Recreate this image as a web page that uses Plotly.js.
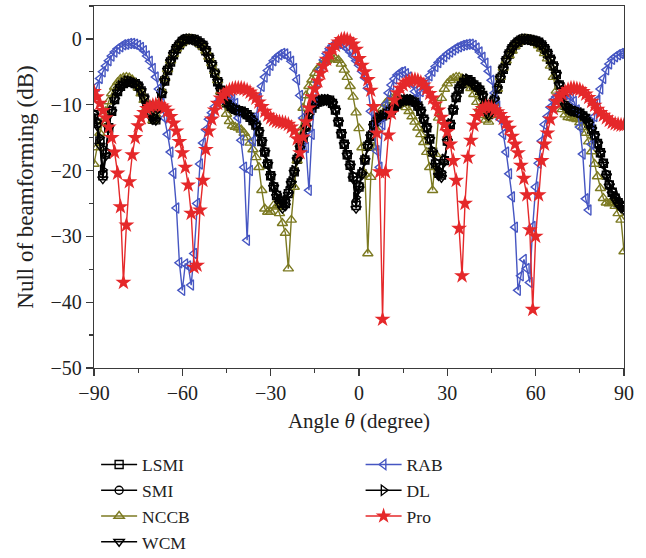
<!DOCTYPE html>
<html><head><meta charset="utf-8">
<script src="https://cdn.plot.ly/plotly-3.0.1.min.js"></script>
<style>html,body{margin:0;padding:0;background:#fff;} #chart{width:646px;height:558px;}</style>
</head><body><div id="chart"></div>
<script>
// Angle grid (degree)
const angleDeg = [
-90,-89,-88,-87,-86,-85,-84,-83,-82,-81,
-80,-79,-78,-77,-76,-75,-74,-73,-72,-71,
-70,-69,-68,-67,-66,-65,-64,-63,-62,-61,
-60,-59,-58,-57,-56,-55,-54,-53,-52,-51,
-50,-49,-48,-47,-46,-45,-44,-43,-42,-41,
-40,-39,-38,-37,-36,-35,-34,-33,-32,-31,
-30,-29,-28,-27,-26,-25,-24,-23,-22,-21,
-20,-19,-18,-17,-16,-15,-14,-13,-12,-11,
-10,-9,-8,-7,-6,-5,-4,-3,-2,-1,
0,1,2,3,4,5,6,7,8,9,
10,11,12,13,14,15,16,17,18,19,
20,21,22,23,24,25,26,27,28,29,
30,31,32,33,34,35,36,37,38,39,
40,41,42,43,44,45,46,47,48,49,
50,51,52,53,54,55,56,57,58,59,
60,61,62,63,64,65,66,67,68,69,
70,71,72,73,74,75,76,77,78,79,
80,81,82,83,84,85,86,87,88,89,
90];

const lsmiDb = [
-11.5,-12.8,-15.5,-20.8,-17.5,-13.5,-11.0,-9.2,-8.0,-7.2,
-6.8,-6.5,-6.5,-6.6,-6.8,-7.2,-7.9,-9.0,-10.1,-11.2,
-12.2,-12.3,-10.5,-8.3,-6.4,-4.8,-3.5,-2.4,-1.5,-0.9,
-0.4,-0.1,0.0,0.0,-0.1,-0.3,-0.6,-1.0,-1.8,-2.8,
-3.9,-5.2,-6.5,-7.8,-8.9,-9.7,-10.2,-10.5,-10.7,-10.9,
-11.0,-11.2,-11.5,-11.9,-12.4,-13.1,-14.1,-15.6,-17.2,-19.0,
-20.8,-22.5,-23.8,-24.7,-25.3,-25.0,-23.5,-21.9,-20.2,-18.3,
-16.5,-15.0,-13.4,-11.6,-10.5,-9.9,-9.6,-9.4,-9.3,-9.3,
-9.3,-9.8,-10.8,-12.6,-14.4,-16.0,-17.6,-19.2,-21.0,-25.3,
-22.5,-20.5,-18.4,-16.3,-14.8,-13.2,-12.3,-11.9,-11.7,-11.5,
-11.2,-10.8,-10.3,-9.9,-9.6,-9.4,-9.3,-9.3,-9.3,-9.6,
-10.2,-11.0,-12.2,-13.5,-15.2,-17.2,-19.0,-20.4,-20.7,-18.5,
-15.5,-13.0,-10.8,-8.9,-7.6,-6.8,-6.3,-6.2,-6.5,-7.0,
-7.3,-7.8,-8.6,-10.0,-11.5,-10.6,-9.3,-7.6,-6.0,-4.6,
-3.3,-2.3,-1.5,-0.9,-0.5,-0.2,0.0,0.0,-0.1,-0.2,
-0.3,-0.5,-0.9,-1.5,-2.2,-3.1,-4.1,-5.4,-7.0,-8.6,
-10.1,-10.6,-10.9,-11.0,-11.1,-11.3,-11.7,-12.1,-12.8,-13.7,
-14.7,-15.9,-17.3,-18.9,-20.7,-22.2,-23.3,-24.2,-24.9,-25.4,
-25.6];

const smiDb = [
-11.6,-12.9,-15.6,-20.5,-17.3,-13.5,-11.0,-9.2,-8.0,-7.2,
-6.8,-6.5,-6.5,-6.6,-6.8,-7.2,-7.9,-9.0,-10.1,-11.2,
-12.2,-12.2,-10.5,-8.3,-6.4,-4.8,-3.5,-2.4,-1.5,-0.9,
-0.4,-0.1,0.0,0.0,-0.1,-0.3,-0.6,-1.0,-1.8,-2.8,
-3.9,-5.2,-6.5,-7.8,-8.9,-9.7,-10.2,-10.5,-10.7,-10.9,
-11.0,-11.2,-11.5,-11.9,-12.4,-13.1,-14.1,-15.6,-17.2,-19.0,
-20.8,-22.4,-23.7,-24.5,-25.0,-24.8,-23.4,-21.9,-20.2,-18.3,
-16.5,-15.0,-13.4,-11.6,-10.5,-9.9,-9.6,-9.4,-9.3,-9.3,
-9.3,-9.8,-10.8,-12.6,-14.4,-16.0,-17.6,-19.2,-21.0,-24.8,
-22.3,-20.4,-18.4,-16.3,-14.8,-13.2,-12.3,-11.9,-11.7,-11.5,
-11.2,-10.8,-10.3,-9.9,-9.6,-9.4,-9.3,-9.3,-9.3,-9.6,
-10.2,-11.0,-12.2,-13.5,-15.2,-17.1,-18.9,-20.2,-20.5,-18.4,
-15.5,-13.0,-10.8,-8.9,-7.6,-6.8,-6.3,-6.2,-6.5,-7.0,
-7.3,-7.8,-8.6,-10.0,-11.5,-10.6,-9.3,-7.6,-6.0,-4.6,
-3.3,-2.3,-1.5,-0.9,-0.5,-0.2,0.0,0.0,-0.1,-0.2,
-0.3,-0.5,-0.9,-1.5,-2.2,-3.1,-4.1,-5.4,-7.0,-8.6,
-10.1,-10.6,-10.9,-11.0,-11.1,-11.3,-11.7,-12.1,-12.8,-13.7,
-14.7,-15.9,-17.3,-18.9,-20.6,-22.1,-23.2,-24.0,-24.7,-25.2,
-25.5];

const nccbDb = [
-19.0,-16.5,-14.3,-12.6,-11.0,-9.5,-8.3,-7.3,-6.6,-6.1,
-5.9,-5.8,-5.9,-6.2,-6.7,-7.4,-8.3,-9.3,-10.4,-11.5,
-12.4,-11.5,-9.8,-7.8,-6.0,-4.6,-3.3,-2.3,-1.5,-0.9,
-0.5,-0.2,0.0,0.0,-0.2,-0.4,-0.8,-1.2,-1.8,-2.7,
-3.7,-4.9,-6.3,-8.0,-9.8,-11.4,-12.5,-13.2,-13.4,-13.5,
-13.8,-14.3,-15.0,-15.8,-16.8,-18.0,-19.5,-23.0,-25.8,-26.3,
-26.3,-25.3,-25.5,-26.5,-28.0,-29.5,-34.9,-27.5,-22.5,-18.5,
-14.0,-10.5,-8.6,-7.2,-6.2,-5.2,-4.5,-4.0,-3.6,-3.3,
-3.1,-3.0,-3.0,-3.2,-3.8,-4.7,-5.8,-7.2,-8.8,-11.2,
-13.6,-16.5,-20.5,-32.6,-21.0,-16.5,-13.8,-11.8,-10.6,-9.8,
-9.3,-9.0,-8.9,-9.0,-9.3,-9.8,-10.4,-11.0,-11.8,-12.6,
-13.5,-14.5,-15.7,-17.2,-19.5,-23.0,-17.5,-12.0,-9.0,-7.6,
-6.8,-6.3,-6.0,-5.8,-5.8,-6.0,-6.3,-6.8,-7.5,-8.4,
-9.6,-10.6,-11.6,-12.3,-12.6,-11.6,-9.8,-7.6,-5.8,-4.4,
-3.3,-2.5,-1.8,-1.1,-0.5,-0.2,0.0,0.0,-0.1,-0.3,
-0.6,-1.0,-1.5,-2.2,-3.0,-4.1,-5.8,-7.9,-9.5,-10.7,
-11.5,-11.9,-12.0,-12.1,-12.2,-12.7,-13.4,-14.3,-15.6,-17.1,
-19.0,-20.9,-22.7,-24.2,-24.9,-25.0,-24.8,-25.4,-26.5,-27.5,
-32.3];

const wcmDb = [
-11.8,-13.2,-16.2,-21.3,-17.8,-13.6,-11.1,-9.3,-8.1,-7.3,
-6.9,-6.6,-6.5,-6.6,-6.8,-7.2,-7.9,-9.0,-10.1,-11.3,
-12.3,-12.4,-10.6,-8.4,-6.4,-4.8,-3.5,-2.4,-1.5,-0.9,
-0.4,-0.1,0.0,0.0,-0.1,-0.3,-0.6,-1.0,-1.8,-2.8,
-3.9,-5.2,-6.5,-7.8,-8.9,-9.7,-10.2,-10.6,-10.8,-11.0,
-11.1,-11.3,-11.6,-12.0,-12.5,-13.2,-14.2,-15.7,-17.3,-19.1,
-20.9,-22.6,-24.0,-25.0,-25.8,-25.4,-23.7,-22.0,-20.3,-18.4,
-16.6,-15.1,-13.5,-11.7,-10.6,-10.0,-9.7,-9.5,-9.4,-9.4,
-9.4,-9.9,-10.9,-12.7,-14.5,-16.1,-17.7,-19.4,-21.3,-25.8,
-22.8,-20.7,-18.5,-16.4,-14.9,-13.3,-12.4,-12.0,-11.8,-11.6,
-11.3,-10.9,-10.4,-10.0,-9.7,-9.5,-9.4,-9.4,-9.4,-9.7,
-10.3,-11.1,-12.3,-13.6,-15.3,-17.4,-19.3,-20.8,-21.1,-18.7,
-15.6,-13.1,-10.9,-9.0,-7.7,-6.9,-6.4,-6.3,-6.6,-7.1,
-7.4,-7.9,-8.7,-10.1,-11.7,-10.7,-9.3,-7.6,-6.0,-4.6,
-3.3,-2.3,-1.5,-0.9,-0.5,-0.2,0.0,0.0,-0.1,-0.2,
-0.3,-0.5,-0.9,-1.5,-2.2,-3.1,-4.1,-5.4,-7.0,-8.6,
-10.2,-10.7,-11.0,-11.1,-11.2,-11.4,-11.8,-12.2,-12.9,-13.8,
-14.8,-16.0,-17.4,-19.1,-20.9,-22.4,-23.6,-24.5,-25.2,-25.7,
-26.0];

const rabDb = [
-8.5,-7.2,-6.0,-5.0,-4.1,-3.3,-2.6,-2.0,-1.5,-1.2,
-0.9,-0.8,-0.7,-0.7,-0.8,-1.0,-1.3,-1.8,-2.6,-3.4,
-4.5,-5.8,-7.6,-9.8,-12.0,-14.5,-17.2,-20.4,-25.7,-34.0,
-38.2,-34.2,-34.5,-37.4,-32.6,-25.0,-19.0,-15.8,-13.8,-12.2,
-11.2,-10.3,-9.6,-9.0,-8.6,-8.4,-8.4,-8.7,-9.8,-12.0,
-15.4,-19.5,-30.6,-20.0,-15.5,-11.8,-9.0,-7.2,-5.8,-4.8,
-4.0,-3.3,-2.8,-2.4,-2.2,-2.3,-2.7,-3.4,-4.5,-6.2,
-8.6,-12.0,-16.5,-23.0,-14.5,-9.5,-6.6,-4.6,-3.2,-2.2,
-1.5,-1.0,-0.8,-0.7,-0.8,-1.1,-1.5,-2.0,-2.6,-3.3,
-4.0,-4.9,-5.9,-7.5,-11.0,-14.0,-17.0,-19.5,-13.0,-10.0,
-8.2,-7.0,-6.1,-5.5,-5.1,-5.0,-5.3,-5.8,-6.8,-8.0,
-8.8,-8.0,-7.2,-6.5,-5.6,-4.9,-4.2,-3.6,-3.1,-2.7,
-2.3,-2.0,-1.7,-1.4,-1.2,-1.0,-0.9,-0.8,-0.8,-1.0,
-1.4,-2.0,-2.8,-3.7,-4.9,-6.3,-8.2,-10.2,-12.2,-14.5,
-17.2,-20.5,-24.0,-28.6,-38.2,-36.0,-33.5,-34.9,-37.0,-28.5,
-22.5,-18.9,-15.5,-13.0,-11.8,-10.4,-9.3,-8.8,-8.5,-8.4,
-8.4,-8.5,-8.8,-9.5,-10.8,-13.4,-17.5,-24.3,-26.0,-16.0,
-11.8,-9.3,-7.6,-6.0,-4.7,-3.8,-3.1,-2.7,-2.4,-2.2,
-2.2];

const dlDb = [
-11.3,-12.5,-15.0,-19.9,-17.0,-13.3,-10.9,-9.1,-7.9,-7.1,
-6.7,-6.4,-6.4,-6.5,-6.7,-7.1,-7.8,-8.9,-10.0,-11.1,
-12.0,-12.1,-10.4,-8.2,-6.3,-4.7,-3.4,-2.3,-1.5,-0.9,
-0.4,-0.1,0.0,0.0,-0.1,-0.3,-0.6,-1.0,-1.8,-2.8,
-3.8,-5.1,-6.4,-7.7,-8.8,-9.6,-10.1,-10.4,-10.6,-10.8,
-10.9,-11.1,-11.4,-11.8,-12.3,-13.0,-14.0,-15.4,-17.0,-18.8,
-20.6,-22.2,-23.5,-24.3,-24.8,-24.6,-23.2,-21.7,-20.0,-18.2,
-16.4,-14.9,-13.3,-11.5,-10.4,-9.8,-9.5,-9.3,-9.2,-9.2,
-9.2,-9.7,-10.7,-12.5,-14.3,-15.9,-17.5,-19.0,-20.7,-24.1,
-22.2,-20.3,-18.3,-16.2,-14.7,-13.1,-12.2,-11.8,-11.6,-11.4,
-11.1,-10.7,-10.2,-9.8,-9.5,-9.3,-9.2,-9.2,-9.2,-9.5,
-10.1,-10.9,-12.1,-13.4,-15.1,-17.0,-18.7,-20.0,-20.3,-18.3,
-15.4,-12.9,-10.7,-8.8,-7.5,-6.7,-6.2,-6.1,-6.4,-6.9,
-7.2,-7.7,-8.5,-9.9,-11.3,-10.5,-9.2,-7.5,-5.9,-4.5,
-3.2,-2.2,-1.4,-0.9,-0.5,-0.2,0.0,0.0,-0.1,-0.2,
-0.3,-0.5,-0.9,-1.5,-2.2,-3.0,-4.0,-5.3,-6.9,-8.5,
-10.0,-10.5,-10.8,-10.9,-11.0,-11.2,-11.6,-12.0,-12.7,-13.6,
-14.6,-15.8,-17.2,-18.8,-20.5,-22.0,-23.1,-24.0,-24.7,-25.2,
-25.4];

const proDb = [
-8.0,-8.8,-9.8,-10.9,-12.0,-13.4,-15.0,-17.2,-20.4,-25.5,
-37.0,-28.3,-21.7,-17.6,-15.0,-13.2,-12.0,-11.2,-10.6,-10.3,
-10.1,-10.0,-10.0,-10.2,-10.5,-11.0,-11.8,-12.8,-14.0,-15.6,
-17.3,-19.5,-22.2,-26.5,-34.7,-34.4,-26.0,-21.5,-16.8,-14.0,
-12.2,-10.8,-9.8,-9.0,-8.5,-8.1,-7.8,-7.6,-7.5,-7.5,
-7.5,-7.6,-7.8,-8.1,-8.5,-9.0,-9.6,-10.3,-11.0,-11.6,
-12.0,-12.3,-12.5,-12.6,-12.7,-12.8,-13.0,-13.4,-14.0,-15.2,
-17.3,-14.9,-12.6,-10.5,-8.8,-7.6,-6.4,-5.2,-4.1,-3.1,
-2.3,-1.6,-1.0,-0.5,-0.1,0.0,-0.1,-0.3,-0.8,-1.6,
-3.0,-4.0,-5.0,-6.2,-7.8,-10.3,-14.3,-20.2,-42.6,-20.2,
-14.6,-11.3,-9.3,-8.2,-7.5,-7.0,-6.6,-6.4,-6.2,-6.2,
-6.3,-6.6,-7.0,-7.6,-8.3,-9.0,-9.9,-10.8,-11.9,-13.0,
-14.1,-16.0,-18.5,-21.5,-28.8,-36.0,-25.0,-18.0,-15.4,-13.1,
-11.8,-11.0,-10.6,-10.3,-10.3,-10.4,-10.8,-11.1,-11.5,-12.1,
-12.8,-13.6,-14.8,-16.0,-17.3,-19.2,-21.2,-23.7,-29.0,-41.1,
-30.0,-23.7,-18.5,-16.0,-14.3,-12.2,-10.6,-9.5,-8.8,-8.4,
-8.0,-7.7,-7.5,-7.5,-7.6,-7.7,-8.0,-8.4,-8.9,-9.5,
-10.1,-10.7,-11.2,-11.6,-12.0,-12.4,-12.7,-12.9,-13.0,-13.1,
-13.1];

const xTickVals = [-90, -60, -30, 0, 30, 60, 90];
const yTickVals = [0, -10, -20, -30, -40, -50];

const BLACK = '#000000', OLIVE = '#7c7a22', BLUE = '#4656c2', RED = '#e5282a';

function series(name, y, color, symbol, size, legendId, filled) {
  return {
    type: 'scatter', mode: 'lines+markers', name: name, x: angleDeg, y: y,
    legend: legendId,
    line: {color: color, width: 1.4},
    marker: filled ? {symbol: symbol, size: size, color: color, line: {width: 0}}
                   : {symbol: symbol, size: size, color: color, line: {width: 1.4, color: color}}
  };
}

const data = [
  series('LSMI', lsmiDb, BLACK, 'square-open', 8, 'legend', false),
  series('SMI', smiDb, BLACK, 'circle-open', 8, 'legend', false),
  series('NCCB', nccbDb, OLIVE, 'triangle-up-open', 9, 'legend', false),
  series('WCM', wcmDb, BLACK, 'triangle-down-open', 9, 'legend', false),
  series('RAB', rabDb, BLUE, 'triangle-left-open', 9, 'legend2', false),
  series('DL', dlDb, BLACK, 'triangle-right-open', 9, 'legend2', false),
  series('Pro', proDb, RED, 'star', 12, 'legend2', true)
];

const axisCommon = {
  showgrid: false, zeroline: false, showline: true, mirror: true,
  linecolor: '#3a3a3a', linewidth: 1.3,
  ticks: 'outside', ticklen: 7, tickwidth: 1.3, tickcolor: '#3a3a3a',
  tickfont: {size: 20, color: '#222'}
};

const layout = {
  width: 646, height: 558,
  margin: {l: 94, r: 22, t: 6, b: 190, autoexpand: false},
  paper_bgcolor: '#ffffff', plot_bgcolor: '#ffffff',
  font: {family: '"Liberation Serif", "Times New Roman", serif', size: 19, color: '#222'},
  showlegend: true,
  xaxis: Object.assign({}, axisCommon, {
    range: [-90, 90], tickmode: 'array', tickvals: xTickVals, tickangle: 0,
    minor: {dtick: 15, tick0: 0, ticks: 'outside', ticklen: 4, tickwidth: 1.3, tickcolor: '#3a3a3a', showgrid: false},
    title: {text: 'Angle <i>θ</i> (degree)', font: {size: 21, color: '#222'}, standoff: 10},
    automargin: true
  }),
  yaxis: Object.assign({}, axisCommon, {
    range: [-50, 5], tickmode: 'array', tickvals: yTickVals,
    minor: {dtick: 5, tick0: 0, ticks: 'outside', ticklen: 4, tickwidth: 1.3, tickcolor: '#3a3a3a', showgrid: false},
    title: {text: 'Null of beamforming (dB)', font: {size: 23, color: '#222'}, standoff: 10},
    automargin: true
  }),
  legend: {
    xref: 'paper', yref: 'paper', x: 0.004, y: -0.2172, xanchor: 'left', yanchor: 'top',
    orientation: 'v', bgcolor: 'rgba(0,0,0,0)', borderwidth: 0,
    font: {size: 17.5, color: '#222'}, itemwidth: 36, tracegroupgap: 0
  },
  legend2: {
    xref: 'paper', yref: 'paper', x: 0.503, y: -0.2172, xanchor: 'left', yanchor: 'top',
    orientation: 'v', bgcolor: 'rgba(0,0,0,0)', borderwidth: 0,
    font: {size: 17.5, color: '#222'}, itemwidth: 36, tracegroupgap: 0
  }
};

Plotly.newPlot('chart', data, layout, {displayModeBar: false, staticPlot: true});
</script>
</body></html>
